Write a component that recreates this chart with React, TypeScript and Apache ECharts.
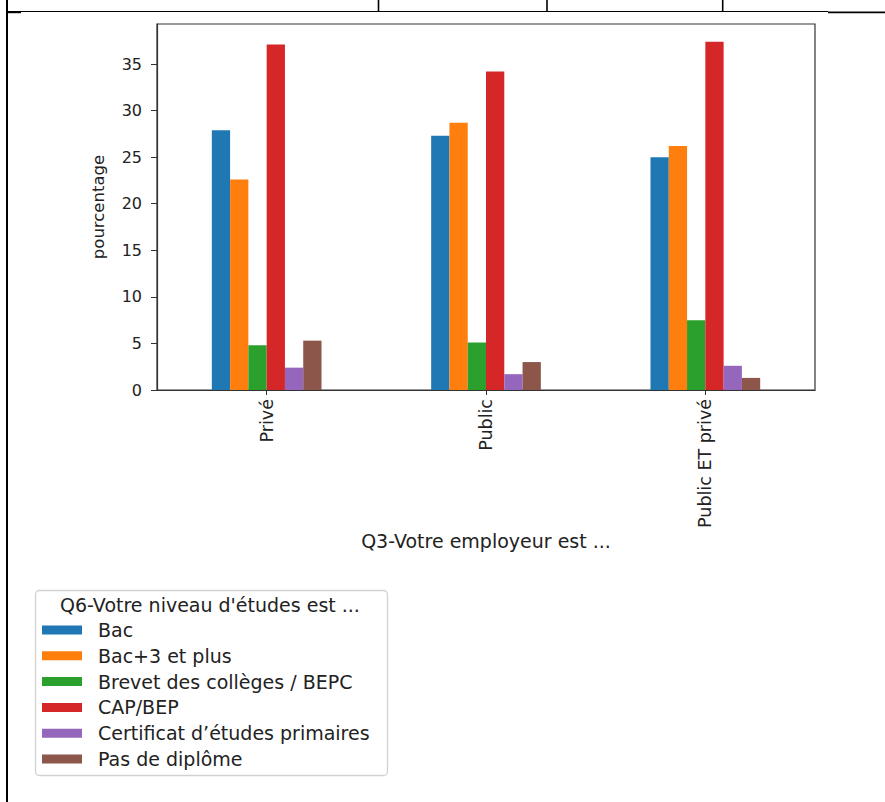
import React, { useEffect, useRef } from "react";
import * as echarts from "echarts";

const categories = ["Privé", "Public", "Public ET privé"];
const seriesNames = [
  "Bac",
  "Bac+3 et plus",
  "Brevet des collèges / BEPC",
  "CAP/BEP",
  "Certificat d’études primaires",
  "Pas de diplôme",
];
const bac = [27.9, 27.3, 25.0];
const bacPlus3 = [22.6, 28.7, 26.2];
const brevet = [4.8, 5.1, 7.5];
const capBep = [37.1, 34.2, 37.4];
const certificat = [2.4, 1.7, 2.6];
const sansDiplome = [5.3, 3.0, 1.3];
const seriesValues = [bac, bacPlus3, brevet, capBep, certificat, sansDiplome];
const colors = ["#1f77b4", "#ff7f0e", "#2ca02c", "#d62728", "#9467bd", "#8c564b"];

const xTitle = "Q3-Votre employeur est ...";
const yTitle = "pourcentage";
const legendTitle = "Q6-Votre niveau d'études est ...";

const FONT = "DejaVu Sans";
const TEXT = "#222";

export default function App() {
  const ref = useRef<HTMLDivElement>(null);
  useEffect(() => {
    if (!ref.current) return;
    const chart = echarts.init(ref.current, undefined, { renderer: "svg" });
    const black = "#000";
    const option: any = {
      animation: false,
      backgroundColor: "#fff",
      textStyle: { fontFamily: FONT },
      grid: {
        left: 157,
        top: 24,
        width: 658,
        height: 366,
        show: true,
        borderColor: "#333",
        borderWidth: 1.2,
        backgroundColor: "transparent",
      },
      xAxis: {
        type: "category",
        data: categories,
        boundaryGap: true,
        axisLine: { show: true, lineStyle: { color: "#333", width: 1.2 } },
        axisTick: { show: true, alignWithLabel: true, length: 5, lineStyle: { color: "#333" } },
        axisLabel: { rotate: 90, margin: 9, fontSize: 17.5, color: TEXT, fontFamily: FONT },
        name: xTitle,
        nameLocation: "middle",
        nameGap: 139,
        nameTextStyle: { fontSize: 19, color: TEXT, fontFamily: FONT },
        splitLine: { show: false },
      },
      yAxis: {
        type: "value",
        min: 0,
        max: 39.3,
        interval: 5,
        axisLine: { show: true, lineStyle: { color: "#333", width: 1.2 } },
        axisTick: { show: true, length: 6, lineStyle: { color: "#333" } },
        axisLabel: {
          margin: 15,
          fontSize: 16,
          color: TEXT,
          fontFamily: FONT,
          showMaxLabel: false,
        },
        splitLine: { show: false },
        name: yTitle,
        nameLocation: "middle",
        nameGap: 50,
        nameTextStyle: { fontSize: 16.5, color: TEXT, fontFamily: FONT },
      },
      legend: {
        orient: "vertical",
        left: 42,
        top: 620.5,
        padding: 0,
        itemWidth: 40,
        itemHeight: 9,
        itemGap: 6.8,
        icon: "rect",
        data: seriesNames,
        textStyle: {
          fontSize: 19,
          lineHeight: 18,
          color: TEXT,
          fontFamily: FONT,
          padding: [0, 0, 0, 11],
        },
      },
      series: seriesNames.map((name, i) => ({
        name,
        type: "bar",
        data: seriesValues[i],
        barWidth: 18.28,
        barGap: "0%",
        itemStyle: { color: colors[i] },
      })),
      graphic: [
        // document table lines
        { type: "line", shape: { x1: 7, y1: 0, x2: 7, y2: 802 }, style: { stroke: black, lineWidth: 2 } },
        { type: "line", shape: { x1: 6, y1: 11.5, x2: 828, y2: 11.5 }, style: { stroke: black, lineWidth: 1.2 } },
        { type: "line", shape: { x1: 8, y1: 12.3, x2: 21, y2: 12.3 }, style: { stroke: black, lineWidth: 1.8 } },
        { type: "line", shape: { x1: 828, y1: 12.3, x2: 885, y2: 12.3 }, style: { stroke: black, lineWidth: 1.8 } },
        { type: "line", shape: { x1: 378.5, y1: 0, x2: 378.5, y2: 11.5 }, style: { stroke: black, lineWidth: 1.6 } },
        { type: "line", shape: { x1: 547, y1: 0, x2: 547, y2: 11.5 }, style: { stroke: black, lineWidth: 1.6 } },
        { type: "line", shape: { x1: 722.7, y1: 0, x2: 722.7, y2: 11.5 }, style: { stroke: black, lineWidth: 1.6 } },
        // legend frame and title
        {
          type: "rect",
          shape: { x: 35.5, y: 590.5, width: 352, height: 185, r: 4 },
          style: { fill: "none", stroke: "#d2d2d2", lineWidth: 1.3 },
          z: 0,
        },
        {
          type: "text",
          x: 210,
          y: 605,
          style: {
            text: legendTitle,
            fontSize: 19,
            fontFamily: FONT,
            fill: TEXT,
            align: "center",
            verticalAlign: "middle",
          },
        },
      ],
    };
    chart.setOption(option);
    return () => chart.dispose();
  }, []);
  return (
    <div
      ref={ref}
      style={{ position: "absolute", left: 0, top: 0, width: 885, height: 802, background: "#fff" }}
    />
  );
}
